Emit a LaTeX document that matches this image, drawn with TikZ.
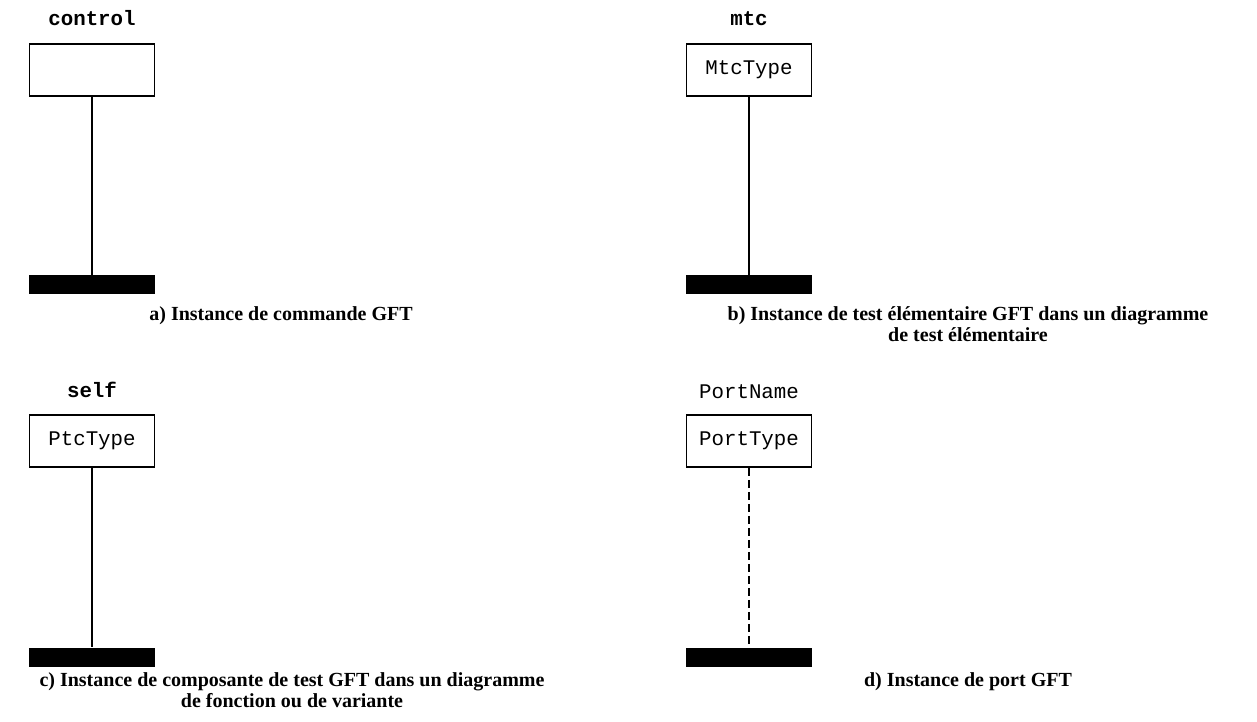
\documentclass[tikz,border=0pt]{standalone}
\usepackage{fontspec}
\setmainfont{Liberation Serif}
\setmonofont{Liberation Mono}
\begin{document}
\begin{tikzpicture}[
    x=0.5pt, y=-0.5pt,
    insthead/.style={rectangle, draw, line width=0.8pt, minimum width=62.5pt,
        minimum height=26pt, inner sep=0pt, font=\fontsize{10.4}{12}\selectfont\ttfamily},
    instname/.style={anchor=base, inner sep=0pt, font=\fontsize{10.4}{12}\selectfont\ttfamily\bfseries},
    instend/.style={rectangle, fill=black, minimum width=63pt, minimum height=9.5pt, inner sep=0pt},
    life/.style={line width=0.8pt},
    caption/.style={anchor=north, align=center, inner sep=0pt,
        font=\fontsize{10}{10.5}\selectfont\bfseries}
]
\useasboundingbox (0,0) rectangle (1257,722);

% a) commande
\node[instname] (ctrlname) at (92,26) {control};
\node[insthead] (ctrlhead) at (92,70) {};
\node[instend] (ctrlend) at (92,284.5) {};
\draw[life] (ctrlhead) -- (ctrlend);
\node[caption] (capa) at (281,306) {a) Instance de commande GFT};

% b) test elementaire
\node[instname] (mtcname) at (749,26) {mtc};
\node[insthead] (mtchead) at (749,70) {MtcType};
\node[instend] (mtcend) at (749,284.5) {};
\draw[life] (mtchead) -- (mtcend);
\node[caption] (capb) at (968,306) {b) Instance de test élémentaire GFT dans un diagramme\\de test élémentaire};

% c) composante de test
\node[instname] (selfname) at (92,397) {self};
\node[insthead] (selfhead) at (92,441) {PtcType};
\node[instend] (selfend) at (92,657) {};
\draw[life] (selfhead) -- (selfend);
\node[caption] (capc) at (292,672) {c) Instance de composante de test GFT dans un diagramme\\de fonction ou de variante};

% d) port
\node[instname, font=\fontsize{10.4}{12}\selectfont\ttfamily] (portname) at (749,398) {PortName};
\node[insthead] (porthead) at (749,441) {PortType};
\node[instend] (portend) at (749,657) {};
\draw[life, dash pattern=on 4pt off 2pt] (porthead) -- (portend);
\node[caption] (capd) at (968,672) {d) Instance de port GFT};
\end{tikzpicture}
\end{document}
